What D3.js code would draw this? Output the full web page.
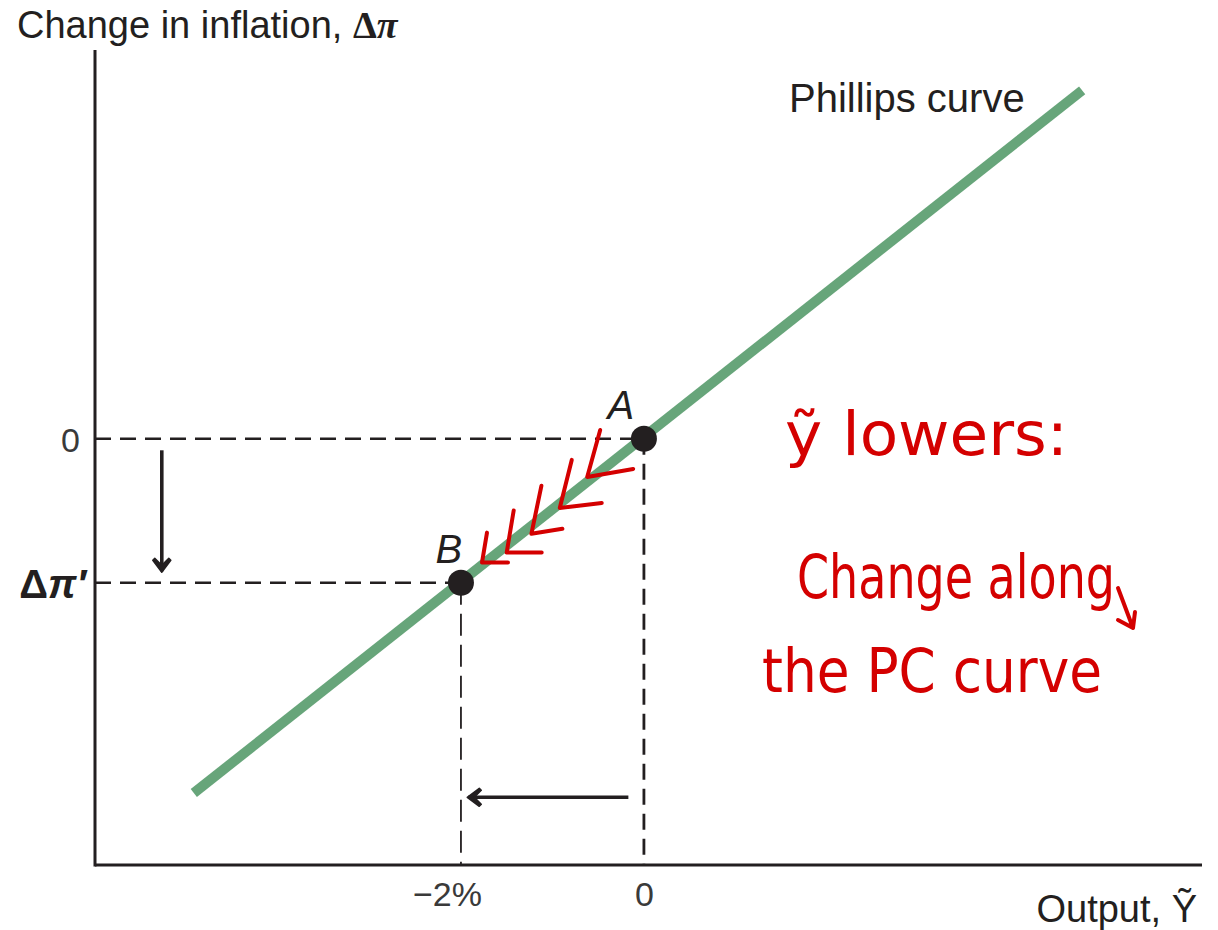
<!DOCTYPE html>
<html lang="en">
<head>
  <meta charset="UTF-8">
  <title>Phillips curve: change along the curve</title>
  <script src="https://d3js.org/d3.v7.min.js"></script>
  <style>
    * { margin: 0; padding: 0; box-sizing: border-box; }
    body { background: #fff; width: 1218px; height: 930px; overflow: hidden; }
    svg { display: block; }
    .lbl { font-family: 'Liberation Sans', Arial, sans-serif; fill: #231f20; }
    .tick text { font-family: 'Liberation Sans', Arial, sans-serif; fill: #3a3a3a; font-size: 34px; }
    .math { font-family: 'Liberation Serif', 'DejaVu Serif', serif; font-weight: bold; }
    .hand { font-family: 'DejaVu Sans', sans-serif; fill: #d40000; }
  </style>
</head>
<body>
  <svg id="chart"></svg>

  <script>
    // data (output gap %, change in inflation)
    const xDomain = [-6, 6.1];
    const yDomain = [-2.96, 2.7];
    const phillipsCurve = [
      { yt: -4.92, dpi: -2.46 },
      { yt: 4.79, dpi: 2.42 }
    ];
    const points = [
      { name: "A", yt: 0, dpi: 0 },
      { name: "B", yt: -2, dpi: -1 }
    ];
    const xTickValues = [-2, 0];
    const xTickLabels = ["\u22122%", "0"];
    const yTickValues = [0, -1];
    const yTickLabels = ["0", "\u0394\u03c0\u2032"];
    // movement arrows on the axes side
    const moveArrows = [
      { x1: -5.27, y1: -0.08, x2: -5.27, y2: -0.92 },
      { x1: -0.17, y1: -2.49, x2: -1.92, y2: -2.49 }
    ];
    // red hand drawn chevrons along the curve (corner + arm lengths)
    const chevrons = [
      { yt: -0.62, dpi: -0.265, up: [13, -47], right: [46, -8] },
      { yt: -0.92, dpi: -0.48, up: [12, -48], right: [42, -5] },
      { yt: -1.23, dpi: -0.66, up: [10, -48], right: [31, -5] },
      { yt: -1.50, dpi: -0.79, up: [7, -42], right: [35, 0] },
      { yt: -1.77, dpi: -0.86, up: [5, -30], right: [26, 0] }
    ];
    const notes = ["\u1ef9 lowers:", "Change along", "the PC curve"];

    const width = 1218, height = 930;
    const svg = d3.select("#chart").attr("width", width).attr("height", height);

    const x = d3.scaleLinear().domain(xDomain).range([95, 1202]);
    const y = d3.scaleLinear().domain(yDomain).range([865, 50]);

    svg.append("defs").append("marker")
      .attr("id", "head")
      .attr("viewBox", "-14 -10 16 20")
      .attr("markerWidth", 16).attr("markerHeight", 20)
      .attr("markerUnits", "userSpaceOnUse")
      .attr("orient", "auto")
      .append("path")
      .attr("d", "M1,0 L-11,-9 L-13,-7 L-6,0 L-13,7 L-11,9 Z")
      .attr("fill", "#231f20")
      .attr("stroke", "#231f20")
      .attr("stroke-width", 1.5)
      .attr("stroke-linejoin", "round");

    // dashed guides
    const guides = svg.append("g")
      .attr("stroke", "#231f20")
      .attr("fill", "none");
    points.forEach(p => {
      guides.append("line")
        .attr("x1", x(xDomain[0])).attr("x2", x(p.yt))
        .attr("y1", y(p.dpi)).attr("y2", y(p.dpi))
        .attr("stroke-width", 2.6)
        .attr("stroke-dasharray", "16,9");
      guides.append("line")
        .attr("x1", x(p.yt)).attr("x2", x(p.yt))
        .attr("y1", y(p.dpi)).attr("y2", y(yDomain[0]))
        .attr("stroke-width", p.name === "A" ? 2.8 : 1.8)
        .attr("stroke-dasharray", p.name === "A" ? "16,9" : "22,9");
    });

    // axes
    const axisG = svg.append("g").attr("stroke", "#231f20").attr("stroke-width", 3);
    axisG.append("line")
      .attr("x1", x(xDomain[0])).attr("x2", x(xDomain[0]))
      .attr("y1", y(yDomain[0]) + 1.5).attr("y2", y(yDomain[1]));
    axisG.append("line")
      .attr("x1", x(xDomain[0])).attr("x2", x(xDomain[1]))
      .attr("y1", y(yDomain[0])).attr("y2", y(yDomain[0]));

    const xAxis = d3.axisBottom(x)
      .tickValues(xTickValues)
      .tickSize(0)
      .tickPadding(17)
      .tickFormat((d, i) => xTickLabels[i]);
    const xg = svg.append("g")
      .attr("transform", `translate(0,${y(yDomain[0])})`)
      .call(xAxis);
    xg.select(".domain").remove();
    xg.selectAll(".tick text").attr("font-size", null)
      .attr("dx", (d, i) => i === 0 ? -14 : 0);

    const yAxis = d3.axisLeft(y)
      .tickValues(yTickValues)
      .tickSize(0)
      .tickPadding(15)
      .tickFormat((d, i) => yTickLabels[i]);
    const yg = svg.append("g")
      .attr("transform", `translate(${x(xDomain[0])},0)`)
      .call(yAxis);
    yg.select(".domain").remove();
    yg.selectAll(".tick text").attr("font-size", null).attr("dy", "0.36em");
    // the Δπ′ tick is set as math: upright Δ, italic π
    const dpTick = yg.selectAll(".tick text").filter((d, i) => i === 1)
      .text(null)
      .attr("dx", 6)
      .attr("class", "math")
      .style("fill", "#231f20")
      .style("font-size", "40px");
    dpTick.append("tspan").text("\u0394");
    dpTick.append("tspan").style("font-style", "italic").text("\u03c0\u2032");

    // phillips curve
    svg.append("path")
      .datum(phillipsCurve)
      .attr("d", d3.line().x(d => x(d.yt)).y(d => y(d.dpi)))
      .attr("stroke", "#67a57a")
      .attr("stroke-width", 10)
      .attr("fill", "none");

    svg.append("text")
      .attr("class", "lbl")
      .attr("x", 789).attr("y", 112)
      .attr("font-size", 40)
      .text("Phillips curve");

    // movement arrows
    svg.append("g").selectAll("line")
      .data(moveArrows)
      .join("line")
      .attr("x1", d => x(d.x1)).attr("y1", d => y(d.y1))
      .attr("x2", d => x(d.x2)).attr("y2", d => y(d.y2))
      .attr("stroke", "#231f20")
      .attr("stroke-width", 3.6)
      .attr("marker-end", "url(#head)");

    // points
    svg.append("g").selectAll("circle")
      .data(points)
      .join("circle")
      .attr("cx", d => x(d.yt)).attr("cy", d => y(d.dpi))
      .attr("r", 13)
      .attr("fill", "#231f20");

    svg.append("g").selectAll("text")
      .data(points)
      .join("text")
      .attr("class", "lbl")
      .attr("x", d => x(d.yt) + (d.name === "A" ? -23 : -12))
      .attr("y", d => y(d.dpi) - 20)
      .attr("text-anchor", "middle")
      .attr("font-size", 40)
      .attr("font-style", "italic")
      .text(d => d.name);

    // axis titles
    const yTitle = svg.append("text")
      .attr("class", "lbl")
      .attr("x", 17).attr("y", 38)
      .attr("font-size", 38);
    yTitle.append("tspan").text("Change in inflation, ");
    yTitle.append("tspan").attr("class", "math").text("\u0394");
    yTitle.append("tspan").attr("class", "math").style("font-style", "italic").text("\u03c0");

    svg.append("text")
      .attr("class", "lbl")
      .attr("x", 1197).attr("y", 922)
      .attr("text-anchor", "end")
      .attr("font-size", 38)
      .text("Output, \u1ef8");

    // red hand-written annotation
    const red = svg.append("g")
      .attr("stroke", "#d40000")
      .attr("stroke-width", 4)
      .attr("stroke-linecap", "round")
      .attr("stroke-linejoin", "round")
      .attr("fill", "none");
    red.selectAll("path")
      .data(chevrons)
      .join("path")
      .attr("d", d => {
        const cx = x(d.yt), cy = y(d.dpi);
        return `M${cx + d.up[0]},${cy + d.up[1]} L${cx},${cy} L${cx + d.right[0]},${cy + d.right[1]}`;
      });
    // small arrow hanging off "along"
    red.append("path")
      .attr("d", "M1118,588 L1133,628 M1118,620 L1133,628 L1135,612");

    const noteX = [785, 797, 762];
    const noteY = [455, 598, 692];
    const noteLen = [283, 318, 340];
    svg.append("g").selectAll("text")
      .data(notes)
      .join("text")
      .attr("class", "hand")
      .attr("x", (d, i) => noteX[i])
      .attr("y", (d, i) => noteY[i])
      .attr("font-size", 60)
      .attr("textLength", (d, i) => noteLen[i])
      .attr("lengthAdjust", "spacingAndGlyphs")
      .text(d => d);
  </script>
</body>
</html>
